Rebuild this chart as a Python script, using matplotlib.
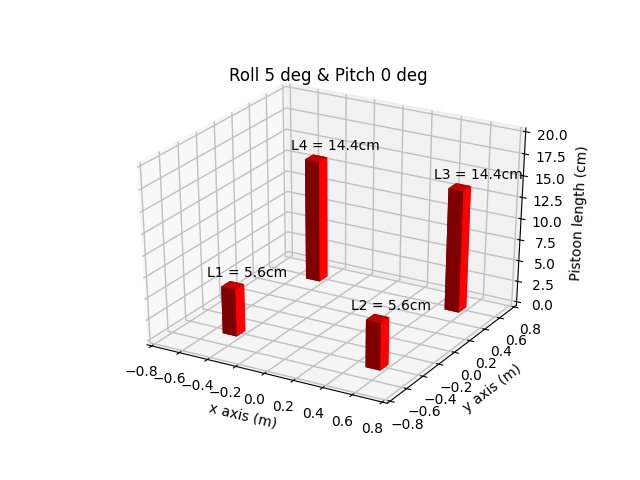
import matplotlib
matplotlib.use("Agg")
import matplotlib.pyplot as plt

# piston positions (m) and lengths (cm)
x_pos = [-0.5, 0.5, 0.5, -0.5]
y_pos = [-0.5, -0.5, 0.5, 0.5]
lengths = [5.6, 5.6, 14.4, 14.4]
labels = ["L1 = 5.6cm", "L2 = 5.6cm", "L3 = 14.4cm", "L4 = 14.4cm"]
bar_w = 0.1

# old style limits with a small margin around the box
plt.rcParams["axes3d.automargin"] = True
plt.rcParams["grid.linewidth"] = 1.0
plt.rcParams["grid.color"] = "#c0c0c0"

fig = plt.figure(figsize=(6.4, 4.8), dpi=100)
ax = fig.add_subplot(111, projection="3d")

# old style 3d axes: fill the whole axes box instead of a square
ax.set_box_aspect((1, 1, 1), zoom=0.94)
ax.apply_aspect = lambda position=None: None

# bottom, top, -y, +y, -x, +x
face_colors = ["#bf0000", "#bf0000", "#7f0000", "#ff0000", "#7f0000", "#ff0000"]
ax.bar3d(x_pos, y_pos, [0, 0, 0, 0], bar_w, bar_w, lengths,
         color=face_colors * len(x_pos), shade=False)

for x, y, h, lab in zip(x_pos, y_pos, lengths, labels):
    ax.text(x - 0.1, y, h + 0.7, lab, color="black")

ax.set_xlim(-0.8, 0.8)
ax.set_ylim(-0.8, 0.8)
ax.set_zlim(0, 20)
ax.set_xlabel("x axis (m)", labelpad=4)
ax.set_ylabel("y axis (m)", labelpad=5)
ax.set_zlabel("Pistoon length (cm)", labelpad=5)
ax.set_title("Roll 5 deg & Pitch 0 deg", y=0.993)

fig.savefig("out.png", dpi=100)
